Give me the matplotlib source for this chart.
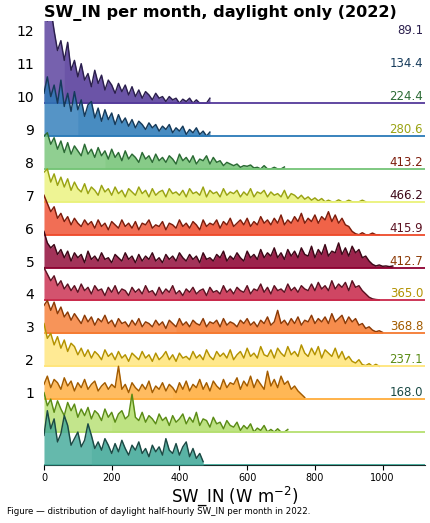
import numpy as np
import matplotlib.pyplot as plt

# ヒストグラムの高さ (リッジ間隔を1とした単位), ビン幅10 W/m2
BIN_W = 10

jan = [0.9, 1.65, 1.1, 1.4, 0.7, 0.95, 1.5, 1.2, 0.6, 0.8, 1.0, 0.55, 0.75, 1.25, 0.9, 0.5,
       0.7, 0.45, 0.8, 0.6, 0.35, 0.65, 0.4, 0.75, 0.5, 0.3, 0.6, 0.45, 0.7, 0.35, 0.5, 0.25,
       0.6, 0.4, 0.55, 0.3, 0.8, 0.45, 0.35, 0.65, 0.3, 0.55, 0.7, 0.25, 0.5, 0.2, 0.35, 0.1]
feb = [1.2, 0.8, 1.0, 0.6, 0.95, 0.7, 0.5, 0.9, 0.65, 0.85, 0.45, 0.7, 0.5, 0.75, 0.4, 0.65,
       0.55, 0.35, 0.7, 0.45, 0.6, 0.3, 0.55, 0.65, 0.4, 0.5, 1.15, 0.45, 0.35, 0.6, 0.3, 0.5,
       0.4, 0.25, 0.55, 0.35, 0.45, 0.2, 0.5, 0.3, 0.4, 0.55, 0.25, 0.45, 0.3, 0.6, 0.2, 0.4,
       0.35, 0.15, 0.45, 0.25, 0.3, 0.1, 0.35, 0.2, 0.15, 0.3, 0.05, 0.2, 0.1, 0.25, 0.0, 0.12,
       0.05, 0.2, 0.0, 0.08, 0.0, 0.1, 0.0, 0.0, 0.08]
mar = [0.45, 0.7, 0.35, 0.6, 0.5, 0.3, 0.65, 0.4, 0.55, 0.25, 0.5, 0.35, 0.6, 0.3, 0.45, 0.55,
       0.25, 0.4, 0.5, 0.3, 0.45, 0.35, 1.0, 0.3, 0.45, 0.2, 0.5, 0.35, 0.25, 0.45, 0.3, 0.55,
       0.2, 0.4, 0.3, 0.5, 0.25, 0.45, 0.35, 0.2, 0.5, 0.3, 0.55, 0.25, 0.45, 0.35, 0.6, 0.3,
       0.5, 0.25, 0.55, 0.4, 0.3, 0.6, 0.35, 0.5, 0.45, 0.65, 0.3, 0.55, 0.4, 0.7, 0.35, 0.6,
       0.45, 0.3, 0.85, 0.4, 0.6, 0.35, 0.7, 0.45, 0.55, 0.3, 0.4, 0.25, 0.15, 0.05]
apr = [1.3, 0.85, 1.0, 0.65, 0.9, 0.55, 0.8, 0.45, 0.7, 0.6, 0.35, 0.55, 0.3, 0.5, 0.25, 0.45,
       0.35, 0.2, 0.5, 0.3, 0.4, 0.2, 0.45, 0.25, 0.35, 0.15, 0.4, 0.3, 0.2, 0.45, 0.25, 0.35,
       0.15, 0.4, 0.2, 0.3, 0.45, 0.2, 0.35, 0.15, 0.4, 0.25, 0.3, 0.2, 0.45, 0.25, 0.35, 0.2,
       0.5, 0.3, 0.2, 0.45, 0.3, 0.4, 0.25, 0.5, 0.2, 0.35, 0.45, 0.25, 0.55, 0.3, 0.4, 0.25,
       0.6, 0.35, 0.3, 0.5, 0.25, 0.55, 0.4, 0.3, 0.6, 0.35, 0.45, 0.3, 0.65, 0.4, 0.3, 0.55,
       0.35, 0.6, 0.25, 0.5, 0.4, 0.3, 0.55, 0.25, 0.45, 0.2, 0.3, 0.15, 0.1, 0.2, 0.05, 0.02,
       0.08, 0.0, 0.06, 0.0]
may = [0.85, 1.0, 0.7, 0.95, 0.6, 0.8, 0.5, 0.65, 0.4, 0.6, 0.45, 0.3, 0.55, 0.35, 0.5, 0.25,
       0.45, 0.35, 0.55, 0.3, 0.4, 0.2, 0.45, 0.3, 0.35, 0.2, 0.4, 0.25, 0.45, 0.2, 0.35, 0.3,
       0.2, 0.4, 0.25, 0.35, 0.15, 0.4, 0.3, 0.2, 0.45, 0.25, 0.35, 0.2, 0.4, 0.3, 0.25, 0.45,
       0.2, 0.35, 0.3, 0.4, 0.2, 0.45, 0.25, 0.35, 0.3, 0.2, 0.4, 0.3, 0.45, 0.25, 0.35, 0.2,
       0.4, 0.3, 0.5, 0.25, 0.35, 0.7, 0.3, 0.4, 0.25, 0.45, 0.3, 0.5, 0.25, 0.4, 0.35, 0.55,
       0.3, 0.45, 0.35, 0.5, 0.3, 0.6, 0.35, 0.45, 0.55, 0.3, 0.5, 0.35, 0.45, 0.25, 0.3, 0.15,
       0.2, 0.1, 0.05, 0.08, 0.03]
jun = [1.0, 0.8, 0.6, 0.75, 0.45, 0.6, 0.35, 0.5, 0.3, 0.45, 0.25, 0.5, 0.3, 0.4, 0.2, 0.45,
       0.3, 0.35, 0.15, 0.4, 0.25, 0.45, 0.2, 0.35, 0.3, 0.15, 0.4, 0.25, 0.35, 0.2, 0.45, 0.25,
       0.3, 0.15, 0.4, 0.2, 0.35, 0.25, 0.45, 0.2, 0.3, 0.15, 0.35, 0.25, 0.4, 0.2, 0.3, 0.35,
       0.15, 0.4, 0.25, 0.3, 0.2, 0.45, 0.25, 0.35, 0.2, 0.4, 0.3, 0.25, 0.45, 0.2, 0.35, 0.3,
       0.5, 0.25, 0.4, 0.2, 0.45, 0.3, 0.35, 0.25, 0.5, 0.3, 0.4, 0.25, 0.45, 0.35, 0.3, 0.5,
       0.3, 0.55, 0.35, 0.45, 0.3, 0.6, 0.35, 0.5, 0.4, 0.55, 0.3, 0.6, 0.4, 0.45, 0.3, 0.2,
       0.1, 0.05, 0.03, 0.02]
jul = [1.1, 0.75, 0.6, 0.7, 0.4, 0.55, 0.3, 0.5, 0.2, 0.45, 0.3, 0.4, 0.15, 0.5, 0.25, 0.35,
       0.2, 0.45, 0.25, 0.3, 0.15, 0.4, 0.3, 0.2, 0.45, 0.25, 0.35, 0.15, 0.4, 0.2, 0.35, 0.25,
       0.45, 0.2, 0.3, 0.15, 0.4, 0.25, 0.35, 0.2, 0.45, 0.3, 0.2, 0.4, 0.25, 0.35, 0.15, 0.45,
       0.25, 0.3, 0.2, 0.4, 0.3, 0.5, 0.2, 0.35, 0.25, 0.45, 0.3, 0.2, 0.5, 0.3, 0.4, 0.25,
       0.55, 0.3, 0.45, 0.35, 0.6, 0.3, 0.45, 0.25, 0.55, 0.35, 0.5, 0.3, 0.6, 0.4, 0.35, 0.65,
       0.3, 0.55, 0.4, 0.7, 0.35, 0.5, 0.45, 0.75, 0.4, 0.6, 0.35, 0.65, 0.45, 0.55, 0.3, 0.35,
       0.2, 0.1, 0.05, 0.08, 0.04, 0.05, 0.03, 0.05]
aug = [1.2, 0.95, 0.7, 0.85, 0.5, 0.65, 0.4, 0.55, 0.3, 0.5, 0.35, 0.25, 0.45, 0.3, 0.4, 0.2,
       0.45, 0.25, 0.35, 0.15, 0.4, 0.3, 0.2, 0.45, 0.25, 0.35, 0.2, 0.4, 0.15, 0.35, 0.3, 0.45,
       0.2, 0.3, 0.25, 0.4, 0.15, 0.35, 0.3, 0.2, 0.45, 0.25, 0.35, 0.2, 0.4, 0.3, 0.15, 0.45,
       0.25, 0.35, 0.3, 0.45, 0.2, 0.4, 0.3, 0.5, 0.25, 0.35, 0.45, 0.3, 0.5, 0.25, 0.4, 0.3,
       0.55, 0.35, 0.45, 0.3, 0.5, 0.35, 0.6, 0.3, 0.45, 0.35, 0.55, 0.4, 0.65, 0.35, 0.5, 0.4,
       0.6, 0.35, 0.55, 0.45, 0.7, 0.4, 0.6, 0.35, 0.5, 0.3, 0.25, 0.1, 0.03, 0.0, 0.06, 0.0,
       0.0, 0.05, 0.0, 0.0]
sep = [0.9, 1.0, 0.6, 0.85, 0.5, 0.75, 0.45, 0.7, 0.35, 0.6, 0.4, 0.3, 0.55, 0.25, 0.45, 0.35,
       0.2, 0.5, 0.3, 0.4, 0.2, 0.45, 0.25, 0.35, 0.15, 0.4, 0.3, 0.2, 0.45, 0.25, 0.35, 0.15,
       0.4, 0.2, 0.3, 0.35, 0.15, 0.4, 0.25, 0.3, 0.2, 0.35, 0.15, 0.4, 0.25, 0.3, 0.2, 0.45,
       0.15, 0.35, 0.25, 0.3, 0.15, 0.4, 0.2, 0.3, 0.25, 0.35, 0.15, 0.3, 0.2, 0.4, 0.15, 0.3,
       0.25, 0.35, 0.15, 0.3, 0.2, 0.25, 0.15, 0.35, 0.1, 0.25, 0.2, 0.1, 0.2, 0.08, 0.15, 0.05,
       0.12, 0.03, 0.1, 0.0, 0.05, 0.0, 0.0, 0.06, 0.0, 0.0, 0.05, 0.0, 0.0, 0.0, 0.05, 0.0]
oct_ = [1.0, 1.1, 0.75, 0.95, 0.6, 0.85, 0.5, 0.8, 0.45, 0.7, 0.55, 0.4, 0.75, 0.45, 0.6, 0.35,
        0.65, 0.4, 0.55, 0.3, 0.6, 0.35, 0.5, 0.25, 0.55, 0.3, 0.45, 0.35, 0.2, 0.5, 0.3, 0.4,
        0.2, 0.45, 0.25, 0.35, 0.2, 0.4, 0.3, 0.15, 0.45, 0.25, 0.35, 0.2, 0.4, 0.15, 0.3, 0.25,
        0.4, 0.15, 0.35, 0.2, 0.25, 0.1, 0.2, 0.15, 0.1, 0.15, 0.05, 0.1, 0.08, 0.12, 0.03, 0.05,
        0.0, 0.1, 0.0, 0.0, 0.05, 0.0, 0.0, 0.06]
nov = [1.3, 1.8, 1.2, 1.55, 1.0, 1.7, 0.9, 1.3, 0.75, 1.35, 0.8, 1.1, 0.6, 0.95, 1.05, 0.55,
       0.85, 0.45, 0.8, 0.5, 0.7, 0.35, 0.65, 0.4, 0.55, 0.3, 0.5, 0.25, 0.45, 0.35, 0.2, 0.4,
       0.25, 0.35, 0.15, 0.3, 0.2, 0.35, 0.1, 0.25, 0.15, 0.3, 0.05, 0.2, 0.1, 0.25, 0.05, 0.15,
       0.0, 0.12]
dec = [2.8, 2.5, 2.9, 2.2, 1.6, 1.9, 1.3, 1.85, 1.0, 1.3, 0.8, 1.2, 0.7, 0.9, 0.5, 1.0,
       0.6, 0.85, 0.4, 0.7, 0.55, 0.3, 0.6, 0.35, 0.55, 0.25, 0.5, 0.2, 0.4, 0.15, 0.35, 0.25,
       0.1, 0.3, 0.15, 0.2, 0.05, 0.2, 0.1, 0.15, 0.0, 0.12, 0.05, 0.15, 0.0, 0.1, 0.0, 0.0,
       0.0, 0.15]

hists = [jan, feb, mar, apr, may, jun, jul, aug, sep, oct_, nov, dec]
months = list(range(1, 13))
means = [168.0, 237.1, 368.8, 365.0, 412.7, 415.9, 466.2, 413.2, 280.6, 224.4, 134.4, 89.1]
medians = [136, 200, 378, 330, 390, 400, 460, 392, 204, 174, 100, 60]

fill_colors = ['#3fa898', '#b5df70', '#ffac3a', '#ffe57a', '#f57a30', '#c9284a',
               '#8c0030', '#ee4a2a', '#eaf27a', '#74c476', '#2a7ab8', '#54399a']
line_colors = ['#1b4a45', '#5b8c15', '#a35c00', '#b39200', '#8c3a06', '#5c1222',
               '#3d0818', '#7d1d0c', '#9aa313', '#2b6b34', '#153a5a', '#2b1f4d']

LABEL_SHIFT = 2.2

fig = plt.figure(figsize=(4.31, 5.23), dpi=100)
ax = fig.add_axes([0.102, 0.111, 0.884, 0.849])

for i, h in enumerate(hists):
    h = np.array(h)
    x = np.arange(len(h)) * BIN_W
    base = i
    z = 30 - 2 * i
    ax.fill_between(x, base, base + h, color=fill_colors[i], alpha=0.8, lw=0, zorder=z)
    ax.fill_between(x, base, base + h, where=x >= medians[i], color=fill_colors[i],
                    alpha=0.3, lw=0, zorder=z)
    ax.plot(x, base + h, color=line_colors[i], lw=1.05, zorder=z + 1)
    ax.axhline(base, color=fill_colors[i], lw=1.3, zorder=z + 1)
    ax.text(0.995, base + LABEL_SHIFT, f'{means[i]:.1f}', transform=ax.get_yaxis_transform(),
            ha='right', va='center', fontsize=8.5, color=line_colors[i], zorder=50)

ax.set_xlim(0, 1125)
ax.set_ylim(0, 13.5)
ax.set_yticks([m - 1 + LABEL_SHIFT for m in months])
ax.set_yticklabels([str(m) for m in months], fontsize=10)
ax.tick_params(axis='y', length=0, pad=7)
ax.set_xticks([0, 200, 400, 600, 800, 1000])
ax.tick_params(axis='x', labelsize=7, length=3.5, width=0.8, pad=2.5)
for s in ['top', 'right', 'left']:
    ax.spines[s].set_visible(False)
ax.spines['bottom'].set_color('#1b2a2a')

ax.set_xlabel('SW_IN (W m$^{-2}$)', fontsize=12, labelpad=1)
ax.set_title('SW_IN per month, daylight only (2022)', loc='left', fontsize=11.6,
             fontweight='bold', pad=3)
fig.text(0.016, 0.013, 'Figure — distribution of daylight half-hourly SW_IN per month in 2022.',
         fontsize=6.2, ha='left', va='bottom')

fig.savefig('out.png', dpi=100)
